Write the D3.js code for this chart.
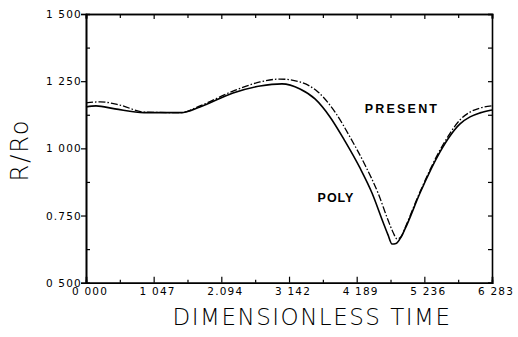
<!DOCTYPE html>
<html>
<head>
<meta charset="utf-8">
<script src="https://cdn.jsdelivr.net/npm/d3@7"></script>
<style>
  body { margin: 0; background: #fff; }
  svg { display: block; }
</style>
</head>
<body>
<svg id="chart" width="518" height="337"></svg>
<script>
// time values (dimensionless) and R/Ro
const polyT = [0, 0.155, 0.449, 0.898, 1.470, 1.764, 2.275, 2.693, 3.033, 3.312, 3.544, 3.776, 4.008, 4.240, 4.426, 4.596, 4.674, 4.736, 4.798, 4.875, 4.937, 5.169, 5.479, 5.633, 5.788, 5.943, 6.098, 6.283];
const polyR = [1.154, 1.158, 1.147, 1.133, 1.133, 1.154, 1.206, 1.232, 1.240, 1.221, 1.184, 1.117, 1.027, 0.927, 0.834, 0.726, 0.678, 0.644, 0.646, 0.670, 0.700, 0.834, 0.987, 1.046, 1.091, 1.117, 1.132, 1.143];

const presentT = [0, 0.217, 0.526, 0.898, 1.470, 1.764, 2.275, 2.693, 3.002, 3.312, 3.590, 3.854, 4.086, 4.318, 4.519, 4.674, 4.751, 4.813, 4.875, 4.937, 5.169, 5.479, 5.633, 5.788, 5.943, 6.098, 6.283];
const presentR = [1.169, 1.173, 1.161, 1.135, 1.133, 1.158, 1.213, 1.247, 1.258, 1.247, 1.210, 1.135, 1.042, 0.938, 0.834, 0.733, 0.688, 0.663, 0.670, 0.704, 0.838, 0.994, 1.056, 1.106, 1.135, 1.150, 1.158];

const xTicks = [0, 1.047, 2.094, 3.142, 4.189, 5.236, 6.283];
const xTickLabels = ["0 000", "1 047", "2.094", "3 142", "4 189", "5 236", "6 283"];
const yTicks = [0.5, 0.75, 1.0, 1.25, 1.5];
const yTickLabels = ["0 500", "0.750", "1 000", "1 250", "1 500"];

const svg = d3.select("#chart");
const plotLeft = 86, plotRight = 492, plotTop = 14, plotBottom = 282.7;

const x = d3.scaleLinear().domain([0, 6.283]).range([plotLeft, plotRight]);
const y = d3.scaleLinear().domain([0.5, 1.5]).range([plotBottom, plotTop]);

const labelFont = "'DejaVu Sans', sans-serif";

// minor tick positions halfway between majors
const xMinor = d3.range(xTicks.length - 1).map(i => (xTicks[i] + xTicks[i + 1]) / 2);
const yMinor = d3.range(yTicks.length - 1).map(i => (yTicks[i] + yTicks[i + 1]) / 2);

// bottom axis: ticks point inward
const bottomAxis = svg.append("g")
  .attr("transform", `translate(0, ${plotBottom})`)
  .call(d3.axisTop(x).tickValues(xTicks).tickSize(6).tickFormat(""));
bottomAxis.append("g")
  .call(d3.axisTop(x).tickValues(xMinor).tickSize(3).tickFormat(""));

// top axis: ticks point inward
const topAxis = svg.append("g")
  .attr("transform", `translate(0, ${plotTop})`)
  .call(d3.axisBottom(x).tickValues(xTicks).tickSize(5).tickFormat(""));
topAxis.append("g")
  .call(d3.axisBottom(x).tickValues(xMinor).tickSize(4).tickFormat(""));

// left axis: majors outward, minors inward
const leftAxis = svg.append("g")
  .attr("transform", `translate(${plotLeft}, 0)`)
  .call(d3.axisLeft(y).tickValues(yTicks).tickSize(5).tickFormat(""));
leftAxis.append("g")
  .call(d3.axisRight(y).tickValues(yMinor).tickSize(4).tickFormat(""));

// right axis: every tick inward
svg.append("g")
  .attr("transform", `translate(${plotRight}, 0)`)
  .call(d3.axisLeft(y).tickValues(yTicks.concat(yMinor)).tickSize(4).tickFormat(""));

svg.selectAll(".domain").attr("stroke", "#000").attr("stroke-width", 1.6);
svg.selectAll(".tick line").attr("stroke", "#000").attr("stroke-width", 1.2);

// tick labels
svg.append("g").selectAll("text")
  .data(xTicks)
  .join("text")
  .attr("x", d => x(d) + 4)
  .attr("y", 295)
  .attr("text-anchor", "middle")
  .style("font-family", labelFont)
  .style("font-size", "10.5px")
  .style("letter-spacing", "1.2px")
  .text((d, i) => xTickLabels[i]);

svg.append("g").selectAll("text")
  .data(yTicks)
  .join("text")
  .attr("x", 82)
  .attr("y", d => y(d) + 4)
  .attr("text-anchor", "end")
  .style("font-family", labelFont)
  .style("font-size", "10.5px")
  .style("letter-spacing", "1.2px")
  .text((d, i) => yTickLabels[i]);

// curves
const polyData = polyT.map((t, i) => ({ t: t, r: polyR[i] }));
const presentData = presentT.map((t, i) => ({ t: t, r: presentR[i] }));

const line = d3.line()
  .x(d => x(d.t))
  .y(d => y(d.r))
  .curve(d3.curveMonotoneX);

svg.append("path")
  .datum(presentData)
  .attr("d", line)
  .attr("fill", "none")
  .attr("stroke", "#000")
  .attr("stroke-width", 1.3)
  .attr("stroke-dasharray", "7,2,1.5,2");

svg.append("path")
  .datum(polyData)
  .attr("d", line)
  .attr("fill", "none")
  .attr("stroke", "#000")
  .attr("stroke-width", 1.6);

// curve labels
svg.append("text")
  .attr("x", 402)
  .attr("y", 113)
  .attr("text-anchor", "middle")
  .style("font-family", "'Liberation Sans', Arial, sans-serif")
  .style("font-weight", "bold")
  .style("font-size", "12.5px")
  .style("letter-spacing", "2.2px")
  .text("PRESENT");

svg.append("text")
  .attr("x", 336)
  .attr("y", 202)
  .attr("text-anchor", "middle")
  .style("font-family", "'Liberation Sans', Arial, sans-serif")
  .style("font-weight", "bold")
  .style("font-size", "12.5px")
  .style("letter-spacing", "1px")
  .text("POLY");

// axis titles
svg.append("text")
  .attr("x", 312)
  .attr("y", 325)
  .attr("text-anchor", "middle")
  .style("font-family", labelFont)
  .style("font-weight", 200)
  .style("font-size", "23px")
  .style("letter-spacing", "1.5px")
  .text("DIMENSIONLESS TIME");

svg.append("text")
  .attr("transform", "translate(28, 150) rotate(-90)")
  .attr("text-anchor", "middle")
  .style("font-family", labelFont)
  .style("font-weight", 200)
  .style("font-size", "24px")
  .style("letter-spacing", "2px")
  .text("R/Ro");
</script>
</body>
</html>
